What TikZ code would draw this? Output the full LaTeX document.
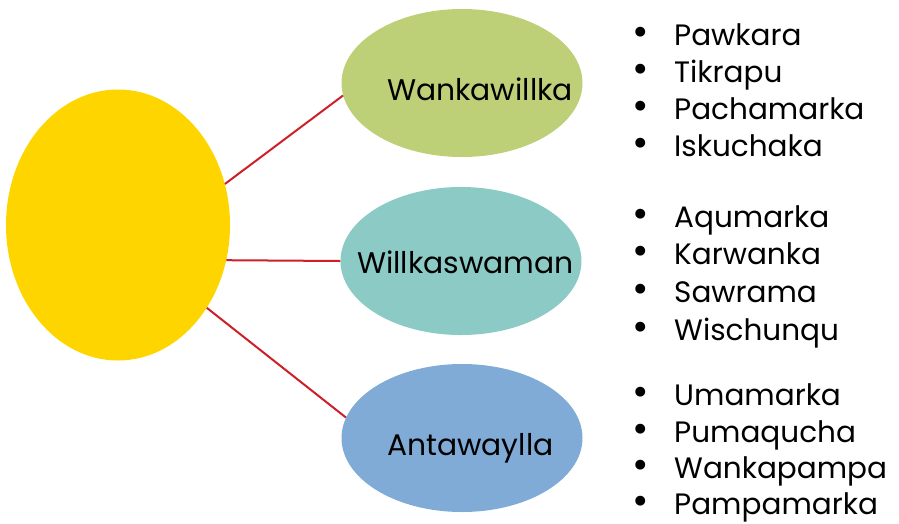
\documentclass[tikz,border=0pt]{standalone}
\usepackage{fontspec}
\setmainfont{Poppins}
\usetikzlibrary{positioning, shapes.geometric}
\definecolor{sunyellow}{HTML}{FFD500}
\definecolor{leafgreen}{HTML}{BDCF77}
\definecolor{seateal}{HTML}{8CCAC6}
\definecolor{skyblue}{HTML}{7FABD6}
\definecolor{linkred}{HTML}{CC1F27}
\newcommand{\bul}{\makebox[42pt][l]{\fontsize{40}{40}\selectfont\textbullet}}
\begin{document}
\begin{tikzpicture}[
  x=1pt, y=-1pt,
  blob/.style = {ellipse, minimum width=241pt, minimum height=148pt,
                 inner sep=0pt},
  lbl/.style  = {anchor=base west, inner sep=0pt,
                 font=\fontsize{29.8}{35}\selectfont},
  item/.style = {anchor=base west, inner sep=0pt,
                 font=\fontsize{29.5}{35}\selectfont},
  link/.style = {draw=linkred, line width=2pt}
]
\useasboundingbox (0,0) rectangle (899,523);
% ellipses
\node[blob, fill=sunyellow, minimum width=224pt, minimum height=271pt]
  (Y) at (118,225) {};
\node[blob, fill=leafgreen] (G) at (462,83) {};
\node[blob, fill=seateal] (T) at (461,261) {};
\node[blob, fill=skyblue] (B) at (462,438) {};
% labels inside
\node[lbl] (Gt) at (387,100) {Wankawillka};
\node[lbl] (Tt) at (357,273) {Willkaswaman};
\node[lbl] (Bt) at (387,455) {Antawaylla};
% connectors
\draw[link] (Y.21) -- (G.186);
\draw[link] (Y.-18) -- (T.west);
\draw[link] (Y.-43) -- (B.170);
% lists
\node[item] (G1) at (632,45)  {\bul Pawkara};
\node[item] (G2) at (632,82)  {\bul Tikrapu};
\node[item] (G3) at (632,119) {\bul Pachamarka};
\node[item] (G4) at (632,156) {\bul Iskuchaka};
\node[item] (T1) at (632,227) {\bul Aqumarka};
\node[item] (T2) at (632,264) {\bul Karwanka};
\node[item] (T3) at (632,302) {\bul Sawrama};
\node[item] (T4) at (632,340) {\bul Wischunqu};
\node[item] (B1) at (632,405) {\bul Umamarka};
\node[item] (B2) at (632,442) {\bul Pumaqucha};
\node[item] (B3) at (632,478) {\bul Wankapampa};
\node[item] (B4) at (632,514) {\bul Pampamarka};
\end{tikzpicture}
\end{document}
